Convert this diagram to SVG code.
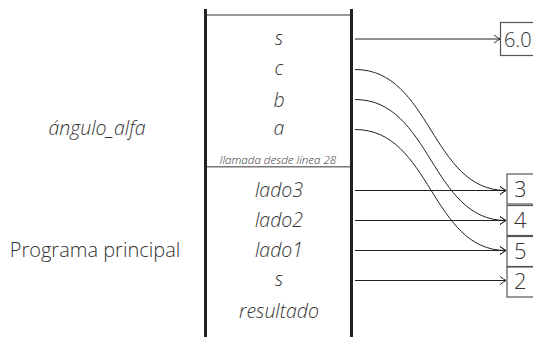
<svg xmlns="http://www.w3.org/2000/svg" width="533" height="337" viewBox="0 0 533 337">
<style>
.t{font-family:"Open Sans","DejaVu Sans",sans-serif;font-weight:300;fill:#333;}
.v{font-size:19.5px;font-style:italic;text-anchor:middle;}
.n{font-size:22px;}
.bar{stroke:#222;stroke-width:3;}
.sep{stroke:#777;stroke-width:1.6;}
.box{fill:#fff;stroke:#555;stroke-width:1.2;}
.c{fill:none;stroke:#222;stroke-width:1;marker-end:url(#ah);}
</style>
<defs>
<marker id="ah" markerUnits="userSpaceOnUse" markerWidth="10" markerHeight="10" viewBox="-7 -5 8 10" refX="0" refY="0" orient="auto">
<path d="M-6,-4 Q-2,-1 0,0 Q-2,1 -6,4" fill="none" stroke="#222" stroke-width="1"/>
</marker>
</defs>
<g id="frame">
<line class="bar" x1="205.5" y1="9" x2="205.5" y2="337"/>
<line class="bar" x1="351.5" y1="9" x2="351.5" y2="337"/>
<line class="sep" x1="207" y1="15" x2="350" y2="15"/>
<line class="sep" x1="207" y1="166.8" x2="350" y2="166.8"/>
</g>
<g id="labels">
<text class="t v" x="97" y="135">ángulo_alfa</text>
<text class="t" x="95" y="257" font-size="20" text-anchor="middle">Programa principal</text>
<text class="t" x="278" y="164" font-size="11.6" font-style="italic" text-anchor="middle">llamada desde línea 28</text>
</g>
<g id="vars">
<text class="t v" x="279" y="45">s</text>
<text class="t v" x="279" y="75">c</text>
<text class="t v" x="279" y="107">b</text>
<text class="t v" x="279" y="135">a</text>
<text class="t v" x="279" y="197">lado3</text>
<text class="t v" x="279" y="227">lado2</text>
<text class="t v" x="279" y="257">lado1</text>
<text class="t v" x="279" y="286">s</text>
<text class="t v" x="279" y="318">resultado</text>
</g>
<g id="val60">
<rect class="box" x="500.5" y="22.5" width="50" height="33"/>
<text class="t" x="504" y="46.5" font-size="20">6.0</text>
</g>
<g id="val3">
<rect class="box" x="507" y="174" width="40" height="30"/>
<text class="t n" x="514" y="197">3</text>
</g>
<g id="val4">
<rect class="box" x="507" y="205.5" width="40" height="30"/>
<text class="t n" x="514" y="228">4</text>
</g>
<g id="val5">
<rect class="box" x="507" y="236.5" width="40" height="30"/>
<text class="t n" x="514" y="259">5</text>
</g>
<g id="val2">
<rect class="box" x="507" y="267" width="40" height="30"/>
<text class="t n" x="514" y="289">2</text>
</g>
<g id="connectors">
<line class="c" x1="355" y1="39" x2="500" y2="39"/>
<path class="c" d="M355,69.5 C431,69.5 431,190.5 506,190.5"/>
<path class="c" d="M355,99.5 C431,99.5 431,220.5 506,220.5"/>
<path class="c" d="M355,129.5 C431,129.5 431,250.5 506,250.5"/>
<line class="c" x1="355" y1="190.5" x2="506" y2="190.5"/>
<line class="c" x1="355" y1="220.5" x2="506" y2="220.5"/>
<line class="c" x1="355" y1="250.5" x2="506" y2="250.5"/>
<line class="c" x1="355" y1="280.5" x2="506" y2="280.5"/>
</g>
</svg>
